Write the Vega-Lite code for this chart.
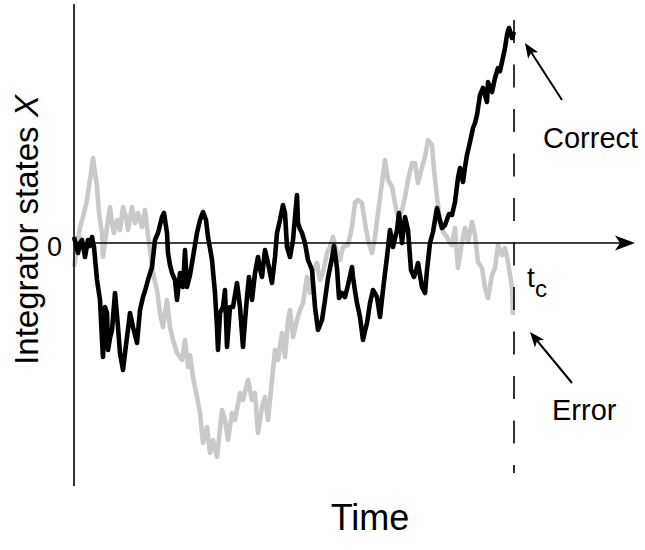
{
  "$schema": "https://vega.github.io/schema/vega-lite/v6.json",
  "width": 645,
  "height": 550,
  "padding": 0,
  "autosize": {"type": "none"},
  "background": "white",
  "config": {"view": {"stroke": null}, "text": {"font": "Liberation Sans", "color": "#000"}},
  "datasets": {
    "correct": [
      {"t":0,"X":6},{"t":2,"X":-2},{"t":4,"X":-10},{"t":6,"X":0},{"t":8,"X":3},{"t":11,"X":-14},{"t":14,"X":3},{"t":16,"X":-3},{"t":18,"X":6},{"t":20,"X":-4},
      {"t":23,"X":-37},{"t":26,"X":-57},{"t":28,"X":-97},{"t":29,"X":-114},{"t":31,"X":-64},{"t":33,"X":-70},{"t":34,"X":-107},
      {"t":36,"X":-95},{"t":38,"X":-87},{"t":41,"X":-50},{"t":44,"X":-84},{"t":46,"X":-110},{"t":49,"X":-127},{"t":51,"X":-110},{"t":53,"X":-94},{"t":56,"X":-70},
      {"t":59,"X":-84},{"t":61,"X":-92},{"t":63,"X":-100},{"t":66,"X":-67},{"t":69,"X":-54},{"t":71,"X":-48},{"t":74,"X":-37},{"t":78,"X":-24},{"t":81,"X":3},
      {"t":84,"X":10},{"t":88,"X":26},{"t":90,"X":30},{"t":93,"X":10},{"t":94,"X":-10},{"t":96,"X":-22},{"t":98,"X":-30},{"t":101,"X":-37},
      {"t":103,"X":-57},{"t":106,"X":-30},{"t":109,"X":-44},{"t":111,"X":-7},{"t":113,"X":-44},{"t":116,"X":-32},{"t":119,"X":-14},
      {"t":121,"X":-2},{"t":123,"X":10},{"t":126,"X":23},{"t":129,"X":31},{"t":132,"X":23},{"t":134,"X":6},{"t":136,"X":-5},{"t":138,"X":-17},{"t":141,"X":-50},
      {"t":143,"X":-84},{"t":144,"X":-107},{"t":146,"X":-70},{"t":149,"X":-64},{"t":151,"X":-47},{"t":153,"X":-104},{"t":156,"X":-64},
      {"t":159,"X":-64},{"t":161,"X":-52},{"t":163,"X":-40},{"t":166,"X":-64},{"t":169,"X":-104},{"t":171,"X":-78},{"t":173,"X":-54},{"t":175,"X":-34},{"t":178,"X":-57},
      {"t":181,"X":-30},{"t":184,"X":-14},{"t":186,"X":-26},{"t":188,"X":-34},{"t":191,"X":-7},{"t":194,"X":-20},{"t":196,"X":-30},{"t":198,"X":-40},{"t":201,"X":-14},
      {"t":203,"X":10},{"t":206,"X":23},{"t":209,"X":38},{"t":211,"X":30},{"t":213,"X":-4},{"t":216,"X":-14},{"t":219,"X":3},
      {"t":221,"X":26},{"t":223,"X":48},{"t":224,"X":20},{"t":226,"X":14},{"t":228,"X":10},{"t":231,"X":0},{"t":234,"X":-17},{"t":238,"X":-27},
      {"t":241,"X":-64},{"t":244,"X":-87},{"t":246,"X":-82},{"t":248,"X":-77},{"t":251,"X":-57},{"t":254,"X":-35},{"t":258,"X":-15},{"t":260,"X":-3},
      {"t":263,"X":-25},{"t":265,"X":-55},{"t":268,"X":-50},{"t":271,"X":-54},{"t":274,"X":-42},{"t":278,"X":-24},{"t":279,"X":-34},
      {"t":281,"X":-48},{"t":283,"X":-60},{"t":286,"X":-74},{"t":289,"X":-97},{"t":291,"X":-88},{"t":293,"X":-80},{"t":296,"X":-60},{"t":299,"X":-47},{"t":303,"X":-54},
      {"t":306,"X":-74},{"t":309,"X":-47},{"t":311,"X":-30},{"t":313,"X":-14},{"t":316,"X":13},{"t":319,"X":-4},{"t":323,"X":13},{"t":325,"X":30},
      {"t":328,"X":0},{"t":331,"X":26},{"t":334,"X":13},{"t":337,"X":-27},{"t":340,"X":-34},{"t":342,"X":-28},{"t":344,"X":-20},{"t":348,"X":-44},
      {"t":351,"X":-50},{"t":353,"X":-27},{"t":356,"X":0},{"t":359,"X":11},{"t":363,"X":35},{"t":366,"X":22},{"t":368,"X":15},{"t":371,"X":18},
      {"t":375,"X":29},{"t":378,"X":28},{"t":381,"X":41},{"t":384,"X":65},{"t":386,"X":75},{"t":389,"X":61},{"t":391,"X":76},{"t":393,"X":88},
      {"t":396,"X":101},{"t":399,"X":115},{"t":401,"X":120},{"t":403,"X":128},{"t":406,"X":148},{"t":409,"X":155},{"t":413,"X":141},{"t":414,"X":161},
      {"t":418,"X":151},{"t":421,"X":165},{"t":424,"X":175},{"t":426,"X":172},{"t":428,"X":181},{"t":431,"X":195},{"t":433,"X":208},{"t":435,"X":215},
      {"t":438,"X":205},{"t":440,"X":211}
    ],
    "error": [
      {"t":0,"X":-24},{"t":3,"X":-4},{"t":6,"X":16},{"t":9,"X":26},{"t":13,"X":43},{"t":14,"X":50},{"t":17,"X":70},{"t":19,"X":85},
      {"t":21,"X":70},{"t":23,"X":56},{"t":25,"X":30},{"t":28,"X":10},{"t":29,"X":-14},{"t":31,"X":0},{"t":33,"X":16},{"t":36,"X":36},
      {"t":38,"X":20},{"t":40,"X":10},{"t":43,"X":23},{"t":46,"X":13},{"t":49,"X":36},{"t":52,"X":26},{"t":54,"X":13},{"t":58,"X":36},
      {"t":61,"X":20},{"t":64,"X":30},{"t":68,"X":16},{"t":71,"X":33},{"t":73,"X":16},{"t":76,"X":-7},{"t":79,"X":-30},{"t":83,"X":-47},
      {"t":86,"X":-70},{"t":89,"X":-84},{"t":93,"X":-57},{"t":96,"X":-84},{"t":99,"X":-97},{"t":103,"X":-110},{"t":108,"X":-117},
      {"t":111,"X":-97},{"t":114,"X":-124},{"t":116,"X":-112},{"t":119,"X":-134},{"t":123,"X":-154},{"t":126,"X":-170},{"t":129,"X":-200},
      {"t":133,"X":-184},{"t":136,"X":-210},{"t":139,"X":-197},{"t":143,"X":-214},{"t":148,"X":-167},{"t":151,"X":-177},{"t":154,"X":-197},
      {"t":158,"X":-170},{"t":161,"X":-177},{"t":166,"X":-150},{"t":169,"X":-157},{"t":174,"X":-137},{"t":178,"X":-157},{"t":181,"X":-150},
      {"t":184,"X":-190},{"t":188,"X":-164},{"t":191,"X":-154},{"t":194,"X":-177},{"t":198,"X":-137},{"t":201,"X":-107},{"t":204,"X":-117},
      {"t":208,"X":-90},{"t":211,"X":-114},{"t":214,"X":-77},{"t":216,"X":-67},{"t":219,"X":-94},{"t":223,"X":-77},{"t":226,"X":-67},
      {"t":229,"X":-60},{"t":233,"X":-34},{"t":236,"X":-50},{"t":239,"X":-27},{"t":243,"X":-20},{"t":246,"X":-37},{"t":249,"X":-30},
      {"t":253,"X":-10},{"t":256,"X":-4},{"t":259,"X":6},{"t":263,"X":-10},{"t":266,"X":-17},{"t":269,"X":-4},{"t":274,"X":-2},
      {"t":278,"X":16},{"t":281,"X":40},{"t":284,"X":43},{"t":288,"X":40},{"t":291,"X":20},{"t":294,"X":3},{"t":298,"X":-10},
      {"t":301,"X":6},{"t":304,"X":30},{"t":308,"X":60},{"t":311,"X":83},{"t":314,"X":63},{"t":318,"X":56},{"t":321,"X":40},
      {"t":324,"X":26},{"t":328,"X":33},{"t":331,"X":46},{"t":334,"X":63},{"t":338,"X":80},{"t":341,"X":80},{"t":344,"X":60},
      {"t":348,"X":76},{"t":351,"X":86},{"t":354,"X":103},{"t":358,"X":98},{"t":360,"X":73},{"t":363,"X":46},{"t":366,"X":23},
      {"t":369,"X":11},{"t":373,"X":6},{"t":376,"X":0},{"t":378,"X":-2},{"t":381,"X":15},{"t":384,"X":-25},{"t":388,"X":1},
      {"t":391,"X":15},{"t":394,"X":1},{"t":398,"X":21},{"t":401,"X":8},{"t":404,"X":-19},{"t":408,"X":-25},{"t":411,"X":-45},
      {"t":414,"X":-55},{"t":418,"X":-32},{"t":421,"X":-25},{"t":424,"X":-2},{"t":428,"X":-12},{"t":431,"X":-5},{"t":434,"X":-19},
      {"t":438,"X":-45},{"t":439,"X":-72}
    ]
  },
  "encoding": {
    "x": {"field": "t", "type": "quantitative", "scale": {"domain": [-74, 571], "nice": false, "zero": false}, "axis": null},
    "y": {"field": "X", "type": "quantitative", "scale": {"domain": [-307, 243], "nice": false, "zero": false}, "axis": null}
  },
  "layer": [
    {"data": {"name": "error"}, "mark": {"type": "line", "color": "#c9c9c9", "strokeWidth": 4.6, "strokeJoin": "round"}},
    {"data": {"name": "correct"}, "mark": {"type": "line", "color": "#000000", "strokeWidth": 4.6, "strokeJoin": "round"}},
    {"data": {"values": [{"t": 0, "X": 239, "X2": -243}]}, "mark": {"type": "rule", "color": "#000", "strokeWidth": 1.6},
     "encoding": {"y2": {"field": "X2"}}},
    {"data": {"values": [{"t": 0, "t2": 548, "X": 0}]}, "mark": {"type": "rule", "color": "#000", "strokeWidth": 1.6},
     "encoding": {"x2": {"field": "t2"}}},
    {"data": {"values": [{"t": 440, "X": 223, "X2": -230}]}, "mark": {"type": "rule", "color": "#000", "strokeWidth": 1.6, "strokeDash": [23, 21.5]},
     "encoding": {"y2": {"field": "X2"}}},
    {"data": {"values": [{"t": 488, "X": 143, "t2": 457, "X2": 191}, {"t": 498, "X": -140, "t2": 463, "X2": -97.5}]},
     "mark": {"type": "rule", "color": "#000", "strokeWidth": 2},
     "encoding": {"x2": {"field": "t2"}, "y2": {"field": "X2"}}},
    {"data": {"values": [{"t": 561, "X": 0}]},
     "mark": {"type": "point", "shape": "M0,0L-1,-0.375L-0.75,0L-1,0.375Z", "size": 1600, "filled": true, "color": "#000", "opacity": 1, "strokeWidth": 0}},
    {"data": {"values": [{"t": 451, "X": 200}]},
     "mark": {"type": "point", "shape": "M0,0L-1,-0.4L-0.75,0L-1,0.4Z", "size": 900, "angle": 237, "filled": true, "color": "#000", "opacity": 1, "strokeWidth": 0}},
    {"data": {"values": [{"t": 456, "X": -89}]},
     "mark": {"type": "point", "shape": "M0,0L-1,-0.4L-0.75,0L-1,0.4Z", "size": 900, "angle": 230.5, "filled": true, "color": "#000", "opacity": 1, "strokeWidth": 0}},
    {"data": {"values": [{"t": -12, "X": -13, "label": "0"}]},
     "mark": {"type": "text", "fontSize": 27, "align": "right", "baseline": "alphabetic"},
     "encoding": {"text": {"field": "label"}}},
    {"data": {"values": [{"t": -36, "X": 116.6, "label": "Integrator states"}]},
     "mark": {"type": "text", "fontSize": 33, "align": "right", "baseline": "alphabetic", "angle": 270},
     "encoding": {"text": {"field": "label"}}},
    {"data": {"values": [{"t": -36, "X": 126, "label": "X"}]},
     "mark": {"type": "text", "fontSize": 33, "fontStyle": "italic", "align": "left", "baseline": "alphabetic", "angle": 270},
     "encoding": {"text": {"field": "label"}}},
    {"data": {"values": [{"t": 296, "X": -287, "label": "Time"}]},
     "mark": {"type": "text", "fontSize": 36, "align": "center", "baseline": "alphabetic"},
     "encoding": {"text": {"field": "label"}}},
    {"data": {"values": [{"t": 469, "X": 95, "label": "Correct"}, {"t": 478, "X": -177, "label": "Error"}]},
     "mark": {"type": "text", "fontSize": 29, "align": "left", "baseline": "alphabetic"},
     "encoding": {"text": {"field": "label"}}},
    {"data": {"values": [{"t": 453, "X": -44, "label": "t"}]},
     "mark": {"type": "text", "fontSize": 28, "align": "left", "baseline": "alphabetic"},
     "encoding": {"text": {"field": "label"}}},
    {"data": {"values": [{"t": 461, "X": -54, "label": "c"}]},
     "mark": {"type": "text", "fontSize": 24, "align": "left", "baseline": "alphabetic"},
     "encoding": {"text": {"field": "label"}}}
  ]
}
